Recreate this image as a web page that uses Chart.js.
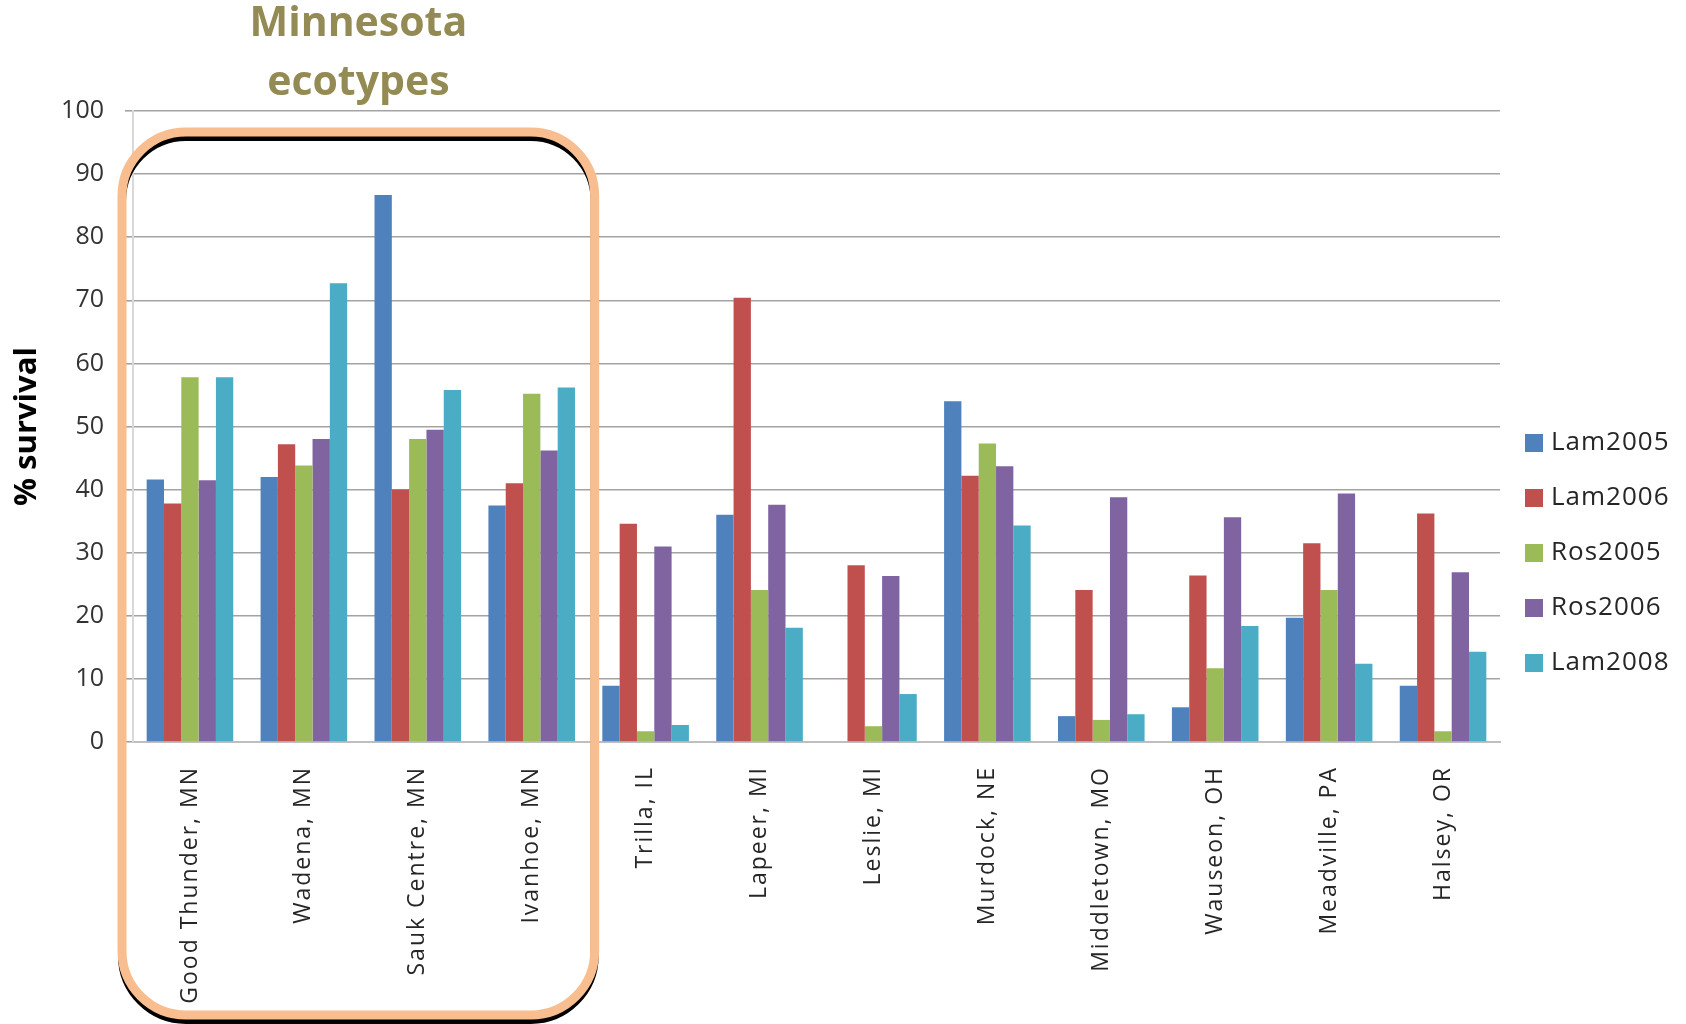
<!DOCTYPE html>
<html>
<head>
<meta charset="utf-8">
<title>% survival by ecotype</title>
<script src="https://cdn.jsdelivr.net/npm/chart.js@4.4.1/dist/chart.umd.min.js"></script>
<style>
  html, body { margin: 0; padding: 0; background: #fff; }
  #wrap { width: 1686px; height: 1024px; }
</style>
</head>
<body>
<div id="wrap"><canvas id="survival-chart" width="1686" height="1024"></canvas></div>
<script>
const sites = [
    'Good Thunder, MN', 'Wadena, MN', 'Sauk Centre, MN', 'Ivanhoe, MN',
    'Trilla, IL', 'Lapeer, MI', 'Leslie, MI', 'Murdock, NE',
    'Middletown, MO', 'Wauseon, OH', 'Meadville, PA', 'Halsey, OR'
];
const lam2005 = [41.6, 42.0, 86.7, 37.5, 8.9, 36.0, 0, 54.0, 4.1, 5.5, 19.7, 8.9];
const lam2006 = [37.8, 47.2, 40.0, 41.0, 34.6, 70.4, 28.0, 42.2, 24.1, 26.4, 31.5, 36.2];
const ros2005 = [57.8, 43.8, 48.0, 55.2, 1.7, 24.1, 2.5, 47.3, 3.5, 11.7, 24.1, 1.7];
const ros2006 = [41.5, 48.0, 49.5, 46.2, 31.0, 37.6, 26.3, 43.7, 38.8, 35.6, 39.4, 26.9];
const lam2008 = [57.8, 72.7, 55.8, 56.2, 2.7, 18.1, 7.6, 34.3, 4.4, 18.4, 12.4, 14.3];
const yTicks = [0, 10, 20, 30, 40, 50, 60, 70, 80, 90, 100];

const series = [
    { label: 'Lam2005', data: lam2005, color: '#4f81bd' },
    { label: 'Lam2006', data: lam2006, color: '#c0504d' },
    { label: 'Ros2005', data: ros2005, color: '#9bbb59' },
    { label: 'Ros2006', data: ros2006, color: '#8064a2' },
    { label: 'Lam2008', data: lam2008, color: '#4bacc6' }
];

const FONT = '"Open Sans", "DejaVu Sans", sans-serif';

// rounded outline around the four MN sites, with a dark edge dropped below it
const drawGroupBox = (chart) => {
    const ctx = chart.ctx;
    const area = chart.chartArea;
    const x = chart.scales.x;
    const left = area.left - 11;
    const right = (x.getPixelForValue(3) + x.getPixelForValue(4)) / 2 + 6;
    const top = area.top + 21;
    const bottom = chart.height - 9;
    const r = 64;

    ctx.save();
    ctx.lineWidth = 8;
    ctx.strokeStyle = '#000';
    ctx.beginPath();
    ctx.roundRect(left, top + 5, right - left, bottom - top, r);
    ctx.stroke();
    ctx.lineWidth = 9;
    ctx.strokeStyle = '#f9be8f';
    ctx.beginPath();
    ctx.roundRect(left, top, right - left, bottom - top, r);
    ctx.stroke();

    ctx.fillStyle = '#948a54';
    ctx.font = 'bold 41px ' + FONT;
    ctx.textAlign = 'center';
    ctx.textBaseline = 'middle';
    const cx = (left + right) / 2;
    ctx.fillText('Minnesota', cx, area.top - 87);
    ctx.fillText('ecotypes', cx, area.top - 28);
    ctx.restore();
};

const drawLegend = (chart) => {
    const ctx = chart.ctx;
    const area = chart.chartArea;
    const startY = 443;
    const step = 55;

    ctx.save();
    ctx.font = '26px ' + FONT;
    ctx.letterSpacing = '1px';
    ctx.textAlign = 'left';
    ctx.textBaseline = 'middle';
    chart.data.datasets.forEach((ds, i) => {
        const y = startY + i * step;
        ctx.fillStyle = ds.backgroundColor;
        ctx.fillRect(area.right + 25, y - 9, 18, 18);
        ctx.fillStyle = '#262626';
        ctx.fillText(ds.label, area.right + 51, y);
    });
    ctx.restore();
};

const annotations = {
    id: 'annotations',
    afterDatasetsDraw: (chart) => {
        // category labels are drawn in a later layer; space their letters out
        chart.ctx.letterSpacing = '2px';
    },
    afterDraw: (chart) => {
        chart.ctx.letterSpacing = '0px';
        drawLegend(chart);
        drawGroupBox(chart);
    }
};

const ctx = document.getElementById('survival-chart').getContext('2d');

window.survivalChart = new Chart(ctx, {
    type: 'bar',
    data: {
        labels: sites,
        datasets: series.map(s => ({
            label: s.label,
            data: s.data,
            backgroundColor: s.color,
            borderWidth: 0,
            categoryPercentage: 0.76,
            barPercentage: 1.0
        }))
    },
    options: {
        responsive: false,
        devicePixelRatio: 1,
        animation: false,
        layout: {
            padding: { top: 111, right: 186, bottom: 0, left: 0 }
        },
        plugins: {
            legend: { display: false },
            tooltip: { enabled: false }
        },
        scales: {
            x: {
                grid: { display: false, drawTicks: false },
                border: { color: '#bfbfbf', width: 2 },
                ticks: {
                    autoSkip: false,
                    minRotation: 90,
                    maxRotation: 90,
                    padding: 24,
                    z: 1,
                    color: '#262626',
                    font: { family: FONT, size: 23 }
                },
                afterFit: (scale) => { scale.height = 282; }
            },
            y: {
                min: 0,
                max: 100,
                afterBuildTicks: (scale) => {
                    scale.ticks = yTicks.map(v => ({ value: v }));
                },
                grid: {
                    color: '#a3a3a3',
                    lineWidth: 1.6,
                    tickLength: 8
                },
                border: { color: '#d9d9d9', width: 2 },
                ticks: {
                    padding: 21,
                    color: '#333',
                    font: { family: FONT, size: 25 }
                },
                title: {
                    display: true,
                    text: '% survival',
                    color: '#000',
                    padding: { top: 9, bottom: 0 },
                    font: { family: FONT, size: 31, weight: 'bold' }
                },
                afterFit: (scale) => { scale.width = 133; }
            }
        }
    },
    plugins: [annotations]
});
</script>
</body>
</html>
